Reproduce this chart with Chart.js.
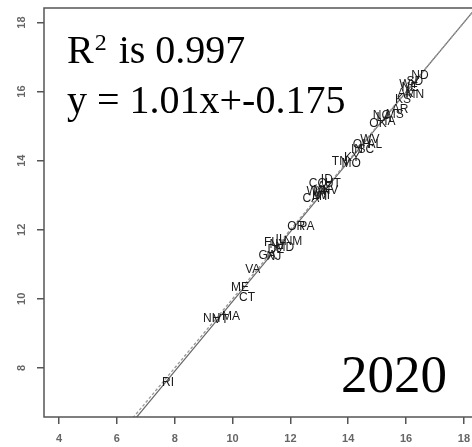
<!DOCTYPE html>
<html>
<head>
<meta charset="utf-8">
<script src="https://cdn.jsdelivr.net/npm/chart.js@4/dist/chart.umd.min.js"></script>
<style>
  html, body { margin: 0; padding: 0; background: #fff; }
  #wrap { width: 472px; height: 447px; }
</style>
</head>
<body>
<div id="wrap"><canvas id="fit2020" width="472" height="447"></canvas></div>
<script>
// state labels and their (x, y) values
const states = ["RI", "NH", "VT", "MA", "ME", "CT", "VA",
  "GA", "FL", "NJ", "NY", "DE", "IL", "MD", "NM",
  "OR", "PA",
  "CA", "WA", "MT", "CO", "MI", "AZ", "NV", "ID", "UT", "WI",
  "TN", "MO",
  "KY", "IN", "OH", "SC", "WV", "AL",
  "OK", "NC", "LA", "IA", "MS", "AR",
  "KS", "AK", "WY", "NE", "MN", "SD", "ND"];
const xVals = [7.77, 9.28, 9.6, 9.95, 10.26, 10.5, 10.7,
  11.2, 11.33, 11.43, 11.57, 11.5, 11.66, 11.81, 12.09,
  12.2, 12.57,
  12.71, 12.88, 13.05, 12.95, 13.0, 13.19, 13.37, 13.26, 13.47, 13.12,
  13.71, 14.1,
  14.13, 14.3, 14.47, 14.61, 14.75, 14.92,
  15.03, 15.15, 15.23, 15.44, 15.61, 15.79,
  15.89, 15.98, 16.1, 16.13, 16.3, 16.3, 16.48];
const yVals = [7.57, 9.42, 9.4, 9.47, 10.32, 10.03, 10.84,
  11.24, 11.62, 11.22, 11.56, 11.42, 11.72, 11.47, 11.65,
  12.08, 12.08,
  12.9, 13.1, 12.95, 13.33, 13.12, 13.24, 13.13, 13.44, 13.33, 13.0,
  13.96, 13.9,
  14.08, 14.31, 14.45, 14.31, 14.6, 14.45,
  15.06, 15.3, 15.24, 15.12, 15.32, 15.47,
  15.76, 15.95, 16.2, 16.1, 15.9, 16.28, 16.45];

// fitted line y = 1.01x - 0.175 and the y = x reference, as end points
const lineX = [6, 19];
const fitY = [5.885, 19.015];
const identityY = [6, 19];

const xTicks = [4, 6, 8, 10, 12, 14, 16, 18];
const yTicks = [8, 10, 12, 14, 16, 18];

const points = xVals.map((x, i) => ({ x: x, y: yVals[i] }));

// draws the state names at each point, the frame, rotated y labels and the notes
const labelPlugin = {
  id: "labelPlugin",
  afterDatasetsDraw(chart) {
    const c = chart.ctx;
    const meta = chart.getDatasetMeta(2);
    c.save();
    c.font = "12px 'Liberation Sans', Arial, sans-serif";
    c.fillStyle = "#1a1a1a";
    c.textAlign = "center";
    c.textBaseline = "middle";
    meta.data.forEach((pt, i) => c.fillText(states[i], pt.x, pt.y));
    c.restore();
  },
  afterDraw(chart) {
    const c = chart.ctx;
    const a = chart.chartArea;
    const ys = chart.scales.y;
    c.save();
    c.strokeStyle = "#555";
    c.lineWidth = 1.5;
    c.strokeRect(a.left, a.top, a.right - a.left + 5, a.bottom - a.top);

    c.font = "bold 11px 'Liberation Sans', Arial, sans-serif";
    c.fillStyle = "#666";
    c.textAlign = "center";
    c.textBaseline = "middle";
    yTicks.forEach((v) => {
      c.save();
      c.translate(22, ys.getPixelForValue(v));
      c.rotate(-Math.PI / 2);
      c.fillText(String(v), 0, 0);
      c.restore();
    });

    c.fillStyle = "#000";
    c.textAlign = "left";
    c.textBaseline = "alphabetic";
    c.font = "40px 'Liberation Serif', 'Times New Roman', serif";
    c.fillText("R", 67, 63);
    const rw = c.measureText("R").width;
    c.font = "24px 'Liberation Serif', 'Times New Roman', serif";
    c.fillText("2", 67 + rw + 1, 50);
    const sw = c.measureText("2").width;
    c.font = "40px 'Liberation Serif', 'Times New Roman', serif";
    c.fillText(" is 0.997", 67 + rw + sw + 3, 63);
    c.fillText("y = 1.01x+-0.175", 67, 113);
    c.font = "53px 'Liberation Serif', 'Times New Roman', serif";
    c.fillText("2020", 341, 392);
    c.restore();
  },
};

new Chart(document.getElementById("fit2020"), {
  type: "scatter",
  data: {
    datasets: [
      {
        label: "identity",
        data: lineX.map((x, i) => ({ x: x, y: identityY[i] })),
        showLine: true,
        borderColor: "#999",
        borderWidth: 1.3,
        borderDash: [3, 2],
        pointRadius: 0,
      },
      {
        label: "fit",
        data: lineX.map((x, i) => ({ x: x, y: fitY[i] })),
        showLine: true,
        borderColor: "#666",
        borderWidth: 1.2,
        pointRadius: 0,
      },
      {
        label: "states",
        data: points,
        pointRadius: 0,
        pointHoverRadius: 0,
      },
    ],
  },
  options: {
    responsive: false,
    animation: false,
    devicePixelRatio: 1,
    layout: { padding: { top: 8, right: 0, left: 0, bottom: 0 } },
    plugins: { legend: { display: false }, tooltip: { enabled: false } },
    scales: {
      x: {
        type: "linear",
        min: 3.48,
        max: 18.28,
        afterBuildTicks: (s) => { s.ticks = xTicks.map((v) => ({ value: v })); },
        afterFit: (s) => { s.height = 30; s.paddingLeft = 0; s.paddingRight = 0; },
        border: { display: false },
        grid: { drawOnChartArea: false, drawTicks: true, tickLength: 7, color: "#555", lineWidth: 1.5 },
        ticks: {
          padding: 8,
          color: "#666",
          font: { family: "'Liberation Sans', Arial, sans-serif", size: 11, weight: "bold" },
          maxRotation: 0,
          minRotation: 0,
        },
      },
      y: {
        type: "linear",
        min: 6.58,
        max: 18.42,
        afterBuildTicks: (s) => { s.ticks = yTicks.map((v) => ({ value: v })); },
        afterFit: (s) => { s.width = 44; s.paddingTop = 0; s.paddingBottom = 0; },
        border: { display: false },
        grid: { drawOnChartArea: false, drawTicks: true, tickLength: 7, color: "#555", lineWidth: 1.5 },
        ticks: { display: false },
      },
    },
  },
  plugins: [labelPlugin],
});
</script>
</body>
</html>
